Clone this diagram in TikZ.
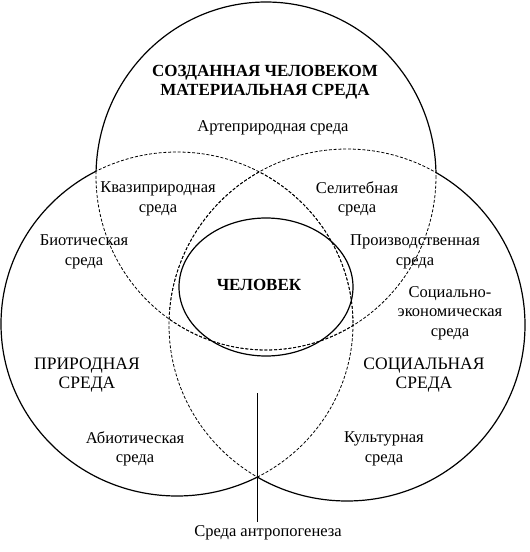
\documentclass[tikz,border=0pt]{standalone}
\usepackage{fontspec}
\setmainfont{Liberation Serif}
\usetikzlibrary{calc}

\begin{document}
\begin{tikzpicture}[x=1pt,y=-1pt,
  lab/.style={align=center,font=\fontsize{16.5}{19.5}\selectfont},
  big/.style={align=center,font=\fontsize{17.5}{19.5}\selectfont},
  bigb/.style={align=center,font=\fontsize{17}{19.5}\selectfont\bfseries},
  rim/.style={line width=1.2pt},
  hid/.style={line width=0.8pt,dash pattern=on 3pt off 1.8pt}]

\useasboundingbox (0,0) rectangle (530,552);

\def\topc{(266,176) ellipse [x radius=170, y radius=174]}
\def\leftc{(177,324) ellipse [x radius=176, y radius=172]}
\def\rightc{(347,325) ellipse [x radius=178, y radius=176]}
\def\frame{(-20,-20) rectangle (560,580)}

% hidden parts of the rims
\begin{scope}
\clip \leftc;
\draw[hid] \topc;
\draw[hid] \rightc;
\end{scope}
\begin{scope}
\clip \rightc;
\draw[hid] \topc;
\draw[hid] \leftc;
\end{scope}
\begin{scope}
\clip \topc;
\draw[hid] \leftc;
\draw[hid] \rightc;
\end{scope}

% outer rims
\begin{scope}[even odd rule]
\clip \frame \leftc;
\clip \frame \rightc;
\draw[rim] \topc;
\end{scope}
\begin{scope}[even odd rule]
\clip \frame \topc;
\clip \frame \rightc;
\draw[rim] \leftc;
\end{scope}
\begin{scope}[even odd rule]
\clip \frame \topc;
\clip \frame \leftc;
\draw[rim] \rightc;
\end{scope}

% man in the middle
\draw[rim] (266,287) ellipse [x radius=87, y radius=69];
\node (man) [bigb] at (259,285) {ЧЕЛОВЕК};

\node (made) [bigb] at (265,82) {СОЗДАННАЯ ЧЕЛОВЕКОМ\\МАТЕРИАЛЬНАЯ СРЕДА};
\node (nat) [big] at (87,375) {ПРИРОДНАЯ\\СРЕДА};
\node (soc) [big] at (424,375) {СОЦИАЛЬНАЯ\\СРЕДА};

\node (arte) [lab] at (273,128) {Артеприродная среда};
\node (quasi) [lab] at (158,199) {Квазиприродная\\среда};
\node (selit) [lab] at (357,199) {Селитебная\\среда};
\node (bio) [lab] at (84,252) {Биотическая\\среда};
\node (prod) [lab] at (415,252) {Производственная\\среда};
\node (socec) [lab] at (450,313) {Социально-\\экономическая\\среда};
\node (abio) [lab] at (135,449) {Абиотическая\\среда};
\node (cult) [lab] at (384,449) {Культурная\\среда};

\node (anth) [lab] at (268,533) {Среда антропогенеза};
\coordinate (atop) at (257,393);
\draw[line width=0.8pt] (atop) -- (atop |- anth.north);
\end{tikzpicture}
\end{document}
